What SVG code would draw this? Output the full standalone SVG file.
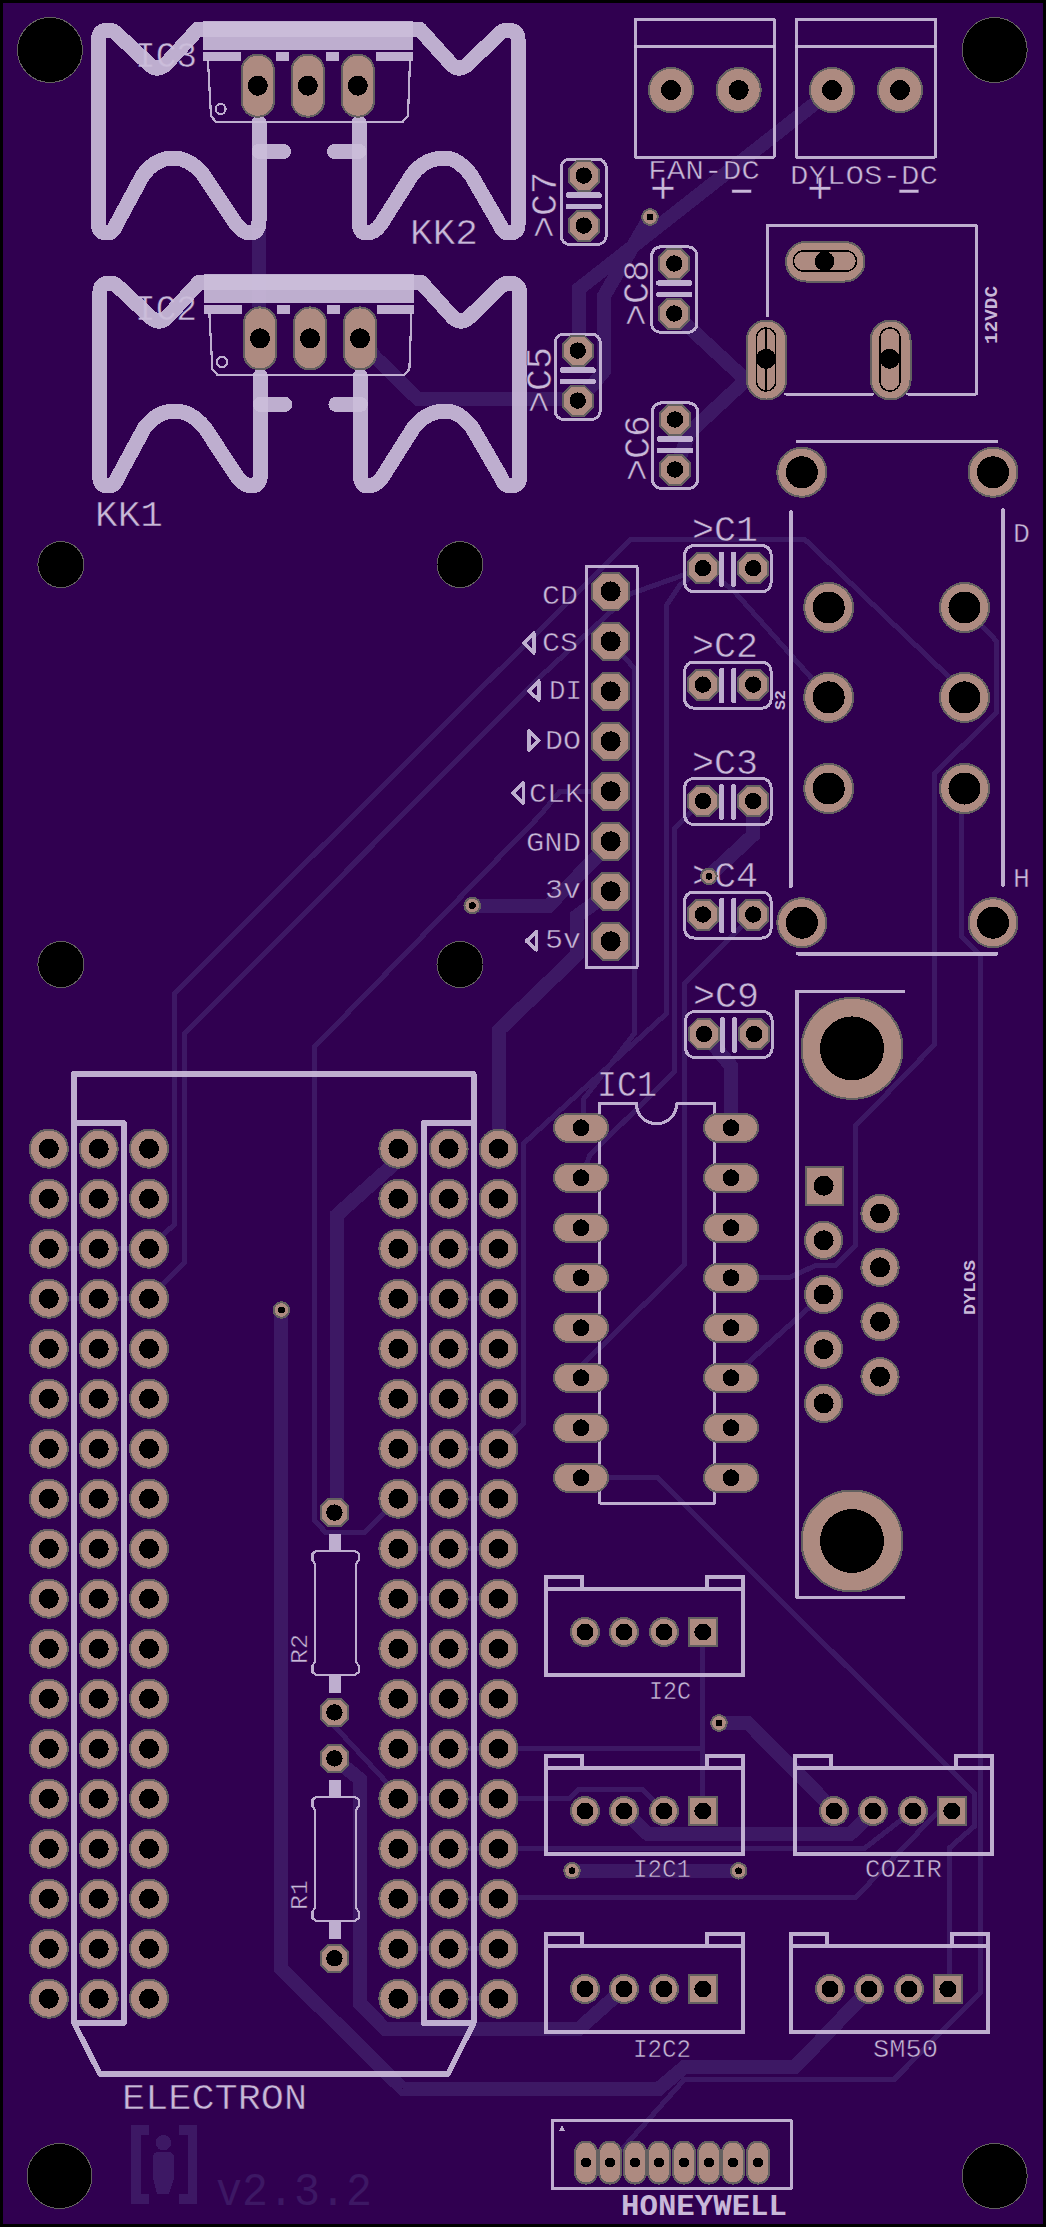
<svg xmlns="http://www.w3.org/2000/svg" width="1046" height="2227" viewBox="0 0 1046 2227" shape-rendering="crispEdges">
<style>
.tr{fill:none;stroke:#3d1864;stroke-width:5;stroke-linejoin:miter}
.th{stroke-width:14}
.s{fill:none;stroke:#cbbdda;stroke-opacity:.92;stroke-width:3;stroke-linejoin:round;stroke-linecap:round}
.s2{stroke-width:2.2}
.s4{stroke-width:3.6}
.s45{stroke-width:4.6}
.s5{stroke-width:5.6}
.hs{stroke-width:15}
.bar{stroke-width:5.4}
.sf{fill:#cbbdda;fill-opacity:.92}
.pad{fill:#ad8a80;stroke:#636060;stroke-width:2}
.hole{fill:#000}
.mh{fill:#000;stroke:#636060;stroke-width:1}
.t{font-family:"Liberation Mono",monospace;fill:#c8b8d8;font-size:36px;stroke:#300050;stroke-width:.5}
.m{font-size:28px}
.n{font-size:25px}
.b{font-weight:bold;font-size:17px;stroke:none}
.logo{fill:#3d1864;stroke:none}
.inner{fill:none;stroke:#000;stroke-width:1.5}
</style>
<defs>
<g id="padC"><polygon class="pad" points="-6.4,-15 6.4,-15 15,-6.4 15,6.4 6.4,15 -6.4,15 -15,6.4 -15,-6.4"/><circle class="hole" r="8.2"/></g>
<g id="padH"><polygon class="pad" points="-7.9,-18.6 7.9,-18.6 18.6,-7.9 18.6,7.9 7.9,18.6 -7.9,18.6 -18.6,7.9 -18.6,-7.9"/><circle class="hole" r="10"/></g>
<g id="padR"><polygon class="pad" points="-6,-13.8 6,-13.8 13.8,-6 13.8,6 6,13.8 -6,13.8 -13.8,6 -13.8,-6"/><circle class="hole" r="8.2"/></g>
<g id="pad20"><circle class="pad" r="19"/><circle class="hole" r="10"/></g>
<g id="pad15"><circle class="pad" r="14"/><circle class="hole" r="8.5"/></g>
<g id="pad19"><circle class="pad" r="18.6"/><circle class="hole" r="10"/></g>
<g id="pad25"><circle class="pad" r="24.5"/><circle class="hole" r="16"/></g>
<g id="padT"><circle class="pad" r="22"/><circle class="hole" r="10"/></g>
<g id="via"><circle class="pad" r="7.8"/><circle class="hole" r="3.4"/></g>
<g id="padO"><rect class="pad" x="-27" y="-14" width="54" height="28" rx="14"/><circle class="hole" r="8.4"/></g>
<g id="padV"><rect class="pad" x="-16.2" y="-31" width="32.4" height="62" rx="16"/><circle class="hole" r="10"/></g>
<g id="padH8"><rect class="pad" x="-11" y="-21" width="22" height="42" rx="11"/><circle class="hole" r="5"/></g>
<g id="erow"><use href="#pad20" x="48.8"/><use href="#pad20" x="98.7"/><use href="#pad20" x="149"/><use href="#pad20" x="398.4"/><use href="#pad20" x="448.6"/><use href="#pad20" x="498.5"/></g>
<g id="capV"><rect class="s" x="-22.7" y="-16.6" width="45.4" height="85.5" rx="9"/><path class="s bar" d="M-15.5 19.5H15.5M-15.5 31H15.5"/><use href="#padC"/><use href="#padC" y="50"/></g>
<g id="capH"><rect class="s" x="-18.2" y="-22.5" width="86.4" height="46" rx="9"/><path class="s bar" d="M18.7 -14V16M30.8 -14V16"/><use href="#padC"/><use href="#padC" x="50.3"/></g>
<g id="heatsink">
<path class="s hs" d="M259 123V221Q259 233 250 233Q243 233 236 224L203.5 175Q190 158 173 158Q156 158 143 175L116 225Q113 233 107 233Q98.5 233 98.5 225V39Q98.5 30 109 30Q113 30 117 34L150 65Q157 71 165 65L198 29H419.5L452 65Q459 71 467 65L499 34Q503 30 507 30Q518 30 518 39V225Q518 233 509 233Q503 233 500 225L471 175Q458 158 444.5 158Q425 158 412 175L381 224Q375 233 366 233Q359 233 359 221V123"/>
<path class="s hs" d="M259 151.4H283.5M334.5 151.4H359"/>
<rect class="sf" x="203" y="21" width="210" height="29"/>
<path class="sf" d="M203 51.5H241V61H203ZM276 51.5H289V61H276ZM326 51.5H339V61H326ZM376 51.5H413V61H376Z"/>
<path class="s s2" d="M208 61L211 116L216 122H402.5L408 116L410 61"/>
<circle class="s s2" cx="220.6" cy="109" r="5"/>
</g>
<g id="res"><path class="s s2" d="M314.8 1810L312.4 1806V1800L316 1796.7H355L358.8 1800V1806L356 1810V1907.7L358.8 1912V1918L355 1921H316L312.4 1918V1912L314.8 1907.7Z"/><rect class="sf" x="328.5" y="1780" width="12" height="16"/><rect class="sf" x="328.5" y="1922" width="12" height="16.5"/></g>
<g id="con4"><path class="s s45" d="M546 1589V1577H582V1589M707 1589V1577H743V1589M546 1589H743V1675H546Z"/><use href="#pad15" x="585" y="1632"/><use href="#pad15" x="624" y="1632"/><use href="#pad15" x="664" y="1632"/><rect class="pad" x="688.5" y="1618" width="28.8" height="28"/><circle class="hole" cx="702.9" cy="1632" r="8.5"/></g>
</defs>

<rect width="1046" height="2227" fill="#000"/>
<rect x="3" y="3" width="1040" height="2221" fill="#300050"/>

<g id="traces">
<path class="tr th" d="M259 228V307"/>
<path class="tr th" d="M362 338L375 357L418 399H577.7"/>
<path class="tr th" d="M832 90L578.7 289V350"/>
<path class="tr th" d="M650 217L604 296V371L592 385.6L577.7 400"/>
<path class="tr th" d="M674.3 313.5L746 380L766 360M746 380L690 432L675 469"/>
<path class="tr" d="M149 1248.7L174.7 1224V993L630.7 539.6H805L949 677L964.5 697.4"/>
<path class="tr" d="M149 1298.8L184 1263V1034L540 677L630 594L702.9 568.2"/>
<path class="tr" d="M702.9 568.2L680 585L666 606V1014L523 1144V1424L498.5 1448.4"/>
<path class="tr" d="M702.9 800.2L674.3 829V1072L590 1155L581 1177.8"/>
<path class="tr" d="M610.6 641.4L634 668V1034L583.7 1099V1127.8"/>
<path class="tr" d="M753.2 914.5L684.4 984V1265L583.7 1363.5L581 1377.8"/>
<path class="tr th" d="M472.3 905.6H548.6L610.6 843"/>
<path class="tr th" d="M610.6 891.3L577 916V955L499 1030V1148.7"/>
<path class="tr th" d="M753.2 800.2V835L708.9 876.3"/>
<path class="tr" d="M610.6 791.3H560L539.4 816L314.8 1046.6V1521L326 1532.6H364.6L398.4 1498.6"/>
<path class="tr th" d="M337 1512V1215L398.4 1160"/>
<path class="tr th" d="M281.4 1310V1969L402.5 2088.5H659L684.4 2067H795L870 1988.7"/>
<path class="tr th" d="M334.4 1758.4L359.5 1779V2003L385 2029H578.7L624 1988.7"/>
<path class="tr" d="M334.4 1712.4V1726L385.3 1781L398.4 1798.9"/>
<path class="tr" d="M702.9 1631.6V1810.8M498.5 1748.6H702.9"/>
<path class="tr" d="M498.5 1798.9H568.6L578.7 1789.5H642.5L664 1810.8"/>
<path class="tr" d="M498.5 1848.8H864L912.9 1810.8"/>
<path class="tr" d="M498.5 1897.6H855.5L937.7 1812L952.8 1810.8"/>
<path class="tr" d="M581 1477.8H657.6L969 1788L974.6 1794V1826L949.4 1848V1988.7"/>
<path class="tr th" d="M719 1723H748L834.7 1810.8"/>
<path class="tr th" d="M624 1810.8L647.5 1833.6H850.5L874 1810.8"/>
<path class="tr th" d="M572 1870.8H738.7"/>
<path class="tr" d="M964.5 788.5L961 813V936L980.6 955.5V1992.7L894 2079.5H684.4L610 2162.6"/>
<path class="tr" d="M964.5 607.5L996.4 641V713L934.3 773.5V1044.8L855.5 1126V1245.6L835.4 1265.3H816L789 1277.8H731"/>
<path class="tr" d="M702.9 568.2L733 590L828.7 697.4"/>
<path class="tr" d="M731 1377.8L823.6 1294.5"/>
<path class="tr th" d="M703.9 1033.4L731 1066V1127.8"/>
<path class="tr" d="M48.8 1248.7H149M48.8 1298.8H149M398.4 1248.7H498.5M398.4 1298.8H498.5M398.4 1448.4H498.5M398.4 1498.6H498.5M398.4 1548.7H498.5M398.4 1598.8H498.5M398.4 1748.7H498.5M398.4 1798.7H498.5M398.4 1848.7H498.5M398.4 1898.7H498.5M398.4 1948.7H498.5M398.4 1998.7H498.5"/>
</g>

<g id="logo">
<path class="logo" d="M130.7 2124.7H148.6V2135H141V2194H148.6V2204H130.7ZM179 2124.7H196.8V2204H179V2194H187.5V2135H179Z"/>
<circle class="logo" cx="163.4" cy="2142.7" r="7.7"/>
<path class="logo" d="M153 2158Q153 2152 159 2152H168Q174 2152 174 2158V2178L169 2194H157L153 2178Z"/>
<text class="t logo" x="216" y="2205.3" style="font-size:46px" textLength="156" lengthAdjust="spacingAndGlyphs">v2.3.2</text>
</g>

<g id="mounting-holes">
<circle class="mh" cx="50" cy="50" r="32.5"/>
<circle class="mh" cx="994.7" cy="50" r="32.5"/>
<circle class="mh" cx="59.5" cy="2176" r="32.5"/>
<circle class="mh" cx="994.7" cy="2176" r="32.5"/>
<circle class="mh" cx="60.9" cy="564.6" r="23"/>
<circle class="mh" cx="460" cy="564.6" r="23"/>
<circle class="mh" cx="60.9" cy="964.5" r="23"/>
<circle class="mh" cx="460" cy="964.5" r="23"/>
</g>

<g id="IC3">
<text class="t" x="135" y="67" textLength="62" lengthAdjust="spacingAndGlyphs">IC3</text>
<use href="#heatsink"/>
<use href="#padV" x="257.8" y="85.7"/><use href="#padV" x="307.8" y="85.7"/><use href="#padV" x="357.8" y="85.7"/>
<text class="t" x="410" y="243.8" textLength="68" lengthAdjust="spacingAndGlyphs">KK2</text>
</g>
<g id="IC2">
<text class="t" x="135" y="319.5" textLength="62" lengthAdjust="spacingAndGlyphs">IC2</text>
<use href="#heatsink" x="1.4" y="253"/>
<use href="#padV" x="260" y="338.4"/><use href="#padV" x="310" y="338.4"/><use href="#padV" x="360" y="338.4"/>
<text class="t" x="95" y="525.5" textLength="68" lengthAdjust="spacingAndGlyphs">KK1</text>
</g>

<g id="FAN-DC">
<rect class="s" x="635" y="19" width="139" height="138"/><path class="s" d="M635 46.4H774"/>
<use href="#padT" x="671" y="90"/><use href="#padT" x="738.7" y="90"/>
<text class="t m" x="648" y="179" textLength="112" lengthAdjust="spacingAndGlyphs">FAN-DC</text>
<text class="t" x="663" y="203" text-anchor="middle" style="font-size:44px">+</text>
<text class="t" x="741.8" y="203" text-anchor="middle" textLength="44" lengthAdjust="spacingAndGlyphs" style="font-size:44px">-</text>
</g>
<g id="DYLOS-DC">
<rect class="s" x="796" y="19" width="139.3" height="138"/><path class="s" d="M796 46.4H935.3"/>
<use href="#padT" x="832" y="90"/><use href="#padT" x="900" y="90"/>
<text class="t m" x="790" y="184.2" textLength="148" lengthAdjust="spacingAndGlyphs">DYLOS-DC</text>
<text class="t" x="820" y="203" text-anchor="middle" style="font-size:44px">+</text>
<text class="t" x="909" y="203" text-anchor="middle" textLength="44" lengthAdjust="spacingAndGlyphs" style="font-size:44px">-</text>
</g>

<g id="C7"><use href="#capV" x="583.7" y="175.6"/><text class="t" transform="translate(556 238) rotate(-90)" textLength="66" lengthAdjust="spacingAndGlyphs">&gt;C7</text></g>
<g id="C8"><use href="#capV" x="674.3" y="263.5"/><text class="t" transform="translate(647.5 326) rotate(-90)" textLength="66" lengthAdjust="spacingAndGlyphs">&gt;C8</text></g>
<g id="C5"><use href="#capV" x="577.7" y="350.6"/><text class="t" transform="translate(551 413) rotate(-90)" textLength="66" lengthAdjust="spacingAndGlyphs">&gt;C5</text></g>
<g id="C6"><use href="#capV" x="675" y="419.5"/><text class="t" transform="translate(649 481) rotate(-90)" textLength="66" lengthAdjust="spacingAndGlyphs">&gt;C6</text></g>

<g id="C1"><use href="#capH" x="702.9" y="568.2"/><text class="t" x="692" y="541.4" textLength="66" lengthAdjust="spacingAndGlyphs">&gt;C1</text></g>
<g id="C2"><use href="#capH" x="702.9" y="684.6"/><text class="t" x="692" y="657.4" textLength="66" lengthAdjust="spacingAndGlyphs">&gt;C2</text></g>
<g id="C3"><use href="#capH" x="702.9" y="801"/><text class="t" x="692" y="773.5" textLength="66" lengthAdjust="spacingAndGlyphs">&gt;C3</text></g>
<g id="C4"><use href="#capH" x="702.9" y="914.5"/><text class="t" x="692" y="886.6" textLength="66" lengthAdjust="spacingAndGlyphs">&gt;C4</text></g>
<g id="C9"><use href="#capH" x="703.9" y="1034"/><text class="t" x="693" y="1006.6" textLength="66" lengthAdjust="spacingAndGlyphs">&gt;C9</text></g>

<g id="12VDC">
<path class="s" d="M767.6 316V225.6H976.3V394H907.5M873 394H785.7"/>
<text class="t b" style="font-size:18px" transform="translate(996.5 344) rotate(-90)" textLength="58" lengthAdjust="spacingAndGlyphs">12VDC</text>
<rect class="pad" x="786" y="242" width="78.5" height="39.5" rx="19.7"/>
<rect class="inner" x="793.4" y="251" width="63" height="20" rx="10"/>
<circle class="hole" cx="824.6" cy="261.3" r="9.8"/>
<rect class="pad" x="746.8" y="320.5" width="39.5" height="79" rx="19.7"/>
<rect class="inner" x="756.5" y="328" width="19.2" height="63" rx="9.6"/>
<path class="inner" d="M766 328V391"/>
<circle class="hole" cx="766" cy="358.8" r="10"/>
<rect class="pad" x="870.6" y="320.5" width="40" height="79" rx="20"/>
<rect class="inner" x="880" y="328" width="20" height="63" rx="10"/>
<circle class="hole" cx="889.7" cy="358.8" r="10"/>
</g>

<g id="S2">
<path class="s s4" d="M797.8 441.6H996.4M797.8 953.8H996.4M791 511.6V886.6M1003 510V885"/>
<use href="#pad25" x="801.8" y="472.3"/><use href="#pad25" x="993" y="472.3"/>
<use href="#pad25" x="801.8" y="922.7"/><use href="#pad25" x="993" y="922.7"/>
<use href="#pad25" x="828.7" y="607.5"/><use href="#pad25" x="964.5" y="607.5"/>
<use href="#pad25" x="828.7" y="697.4"/><use href="#pad25" x="964.5" y="697.4"/>
<use href="#pad25" x="828.7" y="788.5"/><use href="#pad25" x="964.5" y="788.5"/>
<text class="t b" style="font-size:15px" transform="translate(785 710) rotate(-90)" textLength="20" lengthAdjust="spacingAndGlyphs">S2</text>
<text class="t m" x="1013" y="542" textLength="17" lengthAdjust="spacingAndGlyphs">D</text>
<text class="t m" x="1013" y="886.6" textLength="17" lengthAdjust="spacingAndGlyphs">H</text>
</g>

<g id="SD-header">
<rect class="s" x="586" y="566.8" width="51" height="400.5"/>
<use href="#padH" x="610.6" y="591.4"/><use href="#padH" x="610.6" y="641.4"/><use href="#padH" x="610.6" y="691.4"/><use href="#padH" x="610.6" y="741.3"/><use href="#padH" x="610.6" y="791.3"/><use href="#padH" x="610.6" y="841.3"/><use href="#padH" x="610.6" y="891.3"/><use href="#padH" x="610.6" y="941.3"/>
<text class="t m" x="542" y="604" textLength="36" lengthAdjust="spacingAndGlyphs">CD</text>
<text class="t m" x="542" y="651.4" textLength="36" lengthAdjust="spacingAndGlyphs">CS</text>
<text class="t m" x="549" y="698.5" textLength="33" lengthAdjust="spacingAndGlyphs">DI</text>
<text class="t m" x="545" y="748.5" textLength="36" lengthAdjust="spacingAndGlyphs">DO</text>
<text class="t m" x="529" y="802" textLength="54" lengthAdjust="spacingAndGlyphs">CLK</text>
<text class="t m" x="526" y="851.3" textLength="55" lengthAdjust="spacingAndGlyphs">GND</text>
<text class="t m" x="545" y="898.4" textLength="36" lengthAdjust="spacingAndGlyphs">3v</text>
<text class="t m" x="545" y="948.4" textLength="36" lengthAdjust="spacingAndGlyphs">5v</text>
<path class="s s4" d="M533.8 633L524 643L533.8 653ZM538.8 681L529 691L538.8 700ZM529 731L538.8 740.5L529 750ZM523.3 783L513 793L523.3 803ZM536.5 931.5L526.5 941L536.5 950Z"/>
</g>

<g id="vias">
<use href="#via" x="472.3" y="905.6"/><use href="#via" x="708.9" y="876.3"/><use href="#via" x="650" y="217"/><use href="#via" x="281.4" y="1310"/><use href="#via" x="719" y="1723"/><use href="#via" x="572" y="1870.8"/><use href="#via" x="738.7" y="1870.8"/>
</g>

<g id="ELECTRON">
<path class="s s5" d="M74 1123V1073.8H473.7V2023L448 2074H100L74 2023ZM74 1123H124V2023H74M473.7 1123H423.8V2023H473.7"/>
<use href="#erow" y="1148.7"/><use href="#erow" y="1198.7"/><use href="#erow" y="1248.7"/><use href="#erow" y="1298.7"/><use href="#erow" y="1348.7"/><use href="#erow" y="1398.7"/><use href="#erow" y="1448.7"/><use href="#erow" y="1498.7"/><use href="#erow" y="1548.7"/><use href="#erow" y="1598.7"/><use href="#erow" y="1648.7"/><use href="#erow" y="1698.7"/><use href="#erow" y="1748.7"/><use href="#erow" y="1798.7"/><use href="#erow" y="1848.7"/><use href="#erow" y="1898.7"/><use href="#erow" y="1948.7"/><use href="#erow" y="1998.7"/>
<text class="t" x="122" y="2109" textLength="185" lengthAdjust="spacingAndGlyphs">ELECTRON</text>
</g>

<g id="R2"><use href="#res" y="-246"/><use href="#padR" x="334.4" y="1512.6"/><use href="#padR" x="334.4" y="1712.4"/><text class="t n" style="font-size:24px" transform="translate(307 1664) rotate(-90)" textLength="30" lengthAdjust="spacingAndGlyphs">R2</text></g>
<g id="R1"><use href="#res"/><use href="#padR" x="334.4" y="1758.4"/><use href="#padR" x="334.4" y="1958.3"/><text class="t n" style="font-size:24px" transform="translate(307 1910) rotate(-90)" textLength="30" lengthAdjust="spacingAndGlyphs">R1</text></g>

<g id="IC1">
<path class="s" d="M599.5 1103.6H636.4A20.1 20.1 0 0 0 676.7 1103.6H714.6V1503H599.5Z"/>
<use href="#padO" x="581" y="1127.8"/><use href="#padO" x="581" y="1177.8"/><use href="#padO" x="581" y="1227.8"/><use href="#padO" x="581" y="1277.8"/><use href="#padO" x="581" y="1327.8"/><use href="#padO" x="581" y="1377.8"/><use href="#padO" x="581" y="1427.8"/><use href="#padO" x="581" y="1477.8"/>
<use href="#padO" x="731" y="1127.8"/><use href="#padO" x="731" y="1177.8"/><use href="#padO" x="731" y="1227.8"/><use href="#padO" x="731" y="1277.8"/><use href="#padO" x="731" y="1327.8"/><use href="#padO" x="731" y="1377.8"/><use href="#padO" x="731" y="1427.8"/><use href="#padO" x="731" y="1477.8"/>
<text class="t" x="597" y="1095.7" textLength="60" lengthAdjust="spacingAndGlyphs">IC1</text>
</g>

<g id="DYLOS">
<path class="s s4" d="M903.5 991.3H797V1597.3H903.5"/>
<circle class="pad" cx="852" cy="1048.4" r="50.5"/><circle class="hole" cx="852" cy="1048.4" r="32"/>
<circle class="pad" cx="852" cy="1541" r="50.5"/><circle class="hole" cx="852" cy="1541" r="32"/>
<rect class="pad" x="806" y="1167.4" width="37" height="37.3"/><circle class="hole" cx="823.6" cy="1185.7" r="10"/>
<use href="#pad19" x="823.6" y="1240.3"/><use href="#pad19" x="823.6" y="1294.5"/><use href="#pad19" x="823.6" y="1349.2"/><use href="#pad19" x="823.6" y="1403.4"/>
<use href="#pad19" x="880" y="1213.5"/><use href="#pad19" x="880" y="1267.4"/><use href="#pad19" x="880" y="1321.7"/><use href="#pad19" x="880" y="1376.7"/>
<text class="t b" transform="translate(975 1315) rotate(-90)" textLength="55" lengthAdjust="spacingAndGlyphs">DYLOS</text>
</g>

<g id="I2C"><use href="#con4"/><text class="t n" x="649" y="1699" textLength="42" lengthAdjust="spacingAndGlyphs">I2C</text></g>
<g id="I2C1"><use href="#con4" y="179"/><text class="t n" x="633" y="1877.3" textLength="58" lengthAdjust="spacingAndGlyphs">I2C1</text></g>
<g id="I2C2"><use href="#con4" y="357"/><text class="t n" x="633" y="2056.7" textLength="58" lengthAdjust="spacingAndGlyphs">I2C2</text></g>
<g id="COZIR"><use href="#con4" x="249" y="179"/><text class="t n" x="865" y="1877.3" textLength="77" lengthAdjust="spacingAndGlyphs">COZIR</text></g>
<g id="SM50"><use href="#con4" x="245" y="357"/><text class="t n" x="873" y="2056.7" textLength="65" lengthAdjust="spacingAndGlyphs">SM50</text></g>

<g id="HONEYWELL">
<rect class="s" x="552" y="2120" width="239" height="68.7"/>
<path class="sf" d="M562 2125L565 2131H559Z"/>
<use href="#padH8" x="586" y="2162.6"/><use href="#padH8" x="610" y="2162.6"/><use href="#padH8" x="635" y="2162.6"/><use href="#padH8" x="659" y="2162.6"/><use href="#padH8" x="684" y="2162.6"/><use href="#padH8" x="709" y="2162.6"/><use href="#padH8" x="733" y="2162.6"/><use href="#padH8" x="758" y="2162.6"/>
<text class="t b" style="font-size:29px" x="621" y="2215" textLength="166" lengthAdjust="spacingAndGlyphs">HONEYWELL</text>
</g>
</svg>
